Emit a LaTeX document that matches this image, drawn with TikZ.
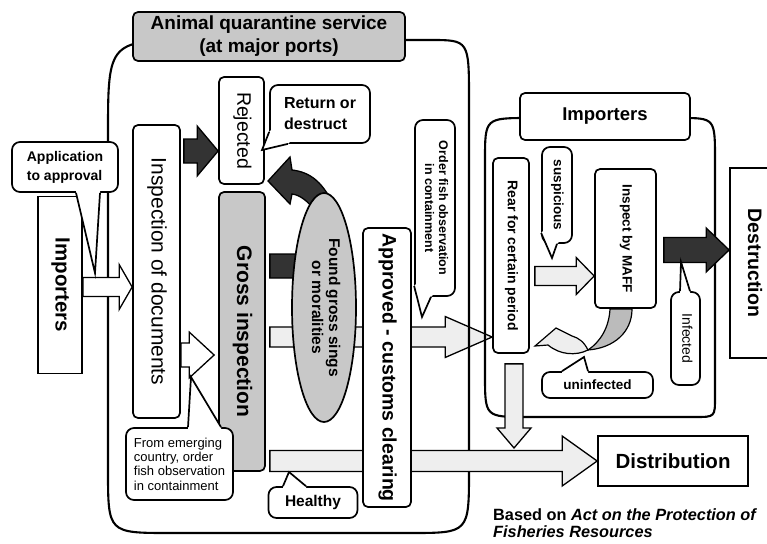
\documentclass[tikz,border=0pt]{standalone}
\usepackage{graphicx}
\usepackage{fontspec}
\setmainfont{Liberation Sans}
\usetikzlibrary{shapes.geometric,calc}
\definecolor{boxgray}{HTML}{C8C8C8}
\definecolor{darkfill}{HTML}{333333}
\definecolor{lightfill}{HTML}{EEEEEE}
\definecolor{midgray}{HTML}{BBBBBB}
\pgfdeclarelayer{under}
\pgfdeclarelayer{frames}
\pgfdeclarelayer{flow}
\pgfsetlayers{under,frames,flow,main}
\newcommand\setfs[2]{\fontsize{#1}{#2}\selectfont}
% text turned to read from top to bottom
\newcommand\vlab[1]{\rotatebox{-90}{\begin{tabular}{@{}c@{}}#1\end{tabular}}}
% right-pointing block arrow: style, tail, tip, shaft half-width, head half-width, head length
\newcommand\rarrow[6]{\path[#1] let \p1=(#2), \p2=(#3) in
  (\x1,\y2+#4) -- (\x2-#6,\y2+#4) -- (\x2-#6,\y2+#5) -- (\x2,\y2)
  -- (\x2-#6,\y2-#5) -- (\x2-#6,\y2-#4) -- (\x1,\y2-#4) -- cycle;}
% downward block arrow: style, tail, tip, shaft half-width, head half-width, head length
\newcommand\darrow[6]{\path[#1] let \p1=(#2), \p2=(#3) in
  (\x2+#4,\y1) -- (\x2+#4,\y2+#6) -- (\x2+#5,\y2+#6) -- (\x2,\y2)
  -- (\x2-#5,\y2+#6) -- (\x2-#4,\y2+#6) -- (\x2-#4,\y1) -- cycle;}
% speech-bubble tail: base point, base point, tip, shift into the bubble
\newcommand\calltail[4]{\fill[white] ($(#1)+(#4)$) -- (#1) -- (#3) -- (#2) -- ($(#2)+(#4)$) -- cycle;
  \draw[ln] (#1) -- (#3) -- (#2);}
\begin{document}
\begin{tikzpicture}[x=1pt,y=-1pt,
  ln/.style={draw=black,line width=1.7pt},
  box/.style={ln,fill=white,rounded corners=5pt,inner sep=0pt},
  sqbox/.style={ln,fill=white,inner sep=0pt},
  graybox/.style={box,fill=boxgray},
  callout/.style={ln,fill=white,rounded corners=8pt,inner sep=0pt},
  framepath/.style={draw=black,line width=2.1pt},
  darkarrow/.style={draw=black,line width=1.3pt,fill=darkfill},
  lightarrow/.style={draw=black,line width=1.3pt,fill=lightfill},
  whitearrow/.style={draw=black,line width=1.3pt,fill=white}]
\useasboundingbox (0,0) rectangle (767,543);

% boxes
\node[graybox, minimum width=272, minimum height=49, align=center, font=\setfs{19}{23}\bfseries] (aqs) at (269,36.5) {Animal quarantine service\\(at major ports)};
\node[sqbox, minimum width=44, minimum height=177, font=\setfs{20.5}{22}\bfseries] (impL) at (60,285) {\vlab{Importers}};
\node[box, minimum width=47, minimum height=293, font=\setfs{21}{24}] (docs) at (156.5,271.5) {\vlab{Inspection of documents}};
\node[box, minimum width=45, minimum height=107, font=\setfs{19.5}{21}] (rej) at (241.5,130.5) {\vlab{Rejected}};
\node[graybox, minimum width=46, minimum height=279, font=\setfs{21}{24}\bfseries] (gross) at (242,331.5) {\vlab{Gross inspection}};
\node[ellipse, ln, fill=boxgray, inner sep=0pt, minimum width=64, minimum height=229, font=\setfs{15.5}{17}\bfseries] (found) at (324,307.5) {\vlab{Found gross sings\\or moralities}};
\node[box, minimum width=48, minimum height=279, font=\setfs{19.5}{22}\bfseries] (appr) at (387,367.5) {\vlab{Approved - customs clearing}};
\node[box, minimum width=170, minimum height=47, font=\setfs{18.5}{22}\bfseries] (imph) at (605,116.5) {Importers};
\node[box, minimum width=36, minimum height=195, font=\setfs{14}{16}\bfseries] (rear) at (511,255.5) {\vlab{Rear for certain period}};
\node[box, minimum width=61, minimum height=139, font=\setfs{13.5}{15}\bfseries] (maff) at (625.5,238.5) {\vlab{Inspect by MAFF}};
\node[sqbox, minimum width=45, minimum height=190, font=\setfs{19.5}{22}\bfseries] (dest) at (752.5,263) {\vlab{Destruction}};
\node[sqbox, minimum width=150, minimum height=50, font=\setfs{20.5}{24}\bfseries] (dist) at (673,461) {Distribution};

% speech bubbles
\node[callout, minimum width=106, minimum height=50, align=left, font=\setfs{14}{19}\bfseries] (app) at (65,167) {Application\\to approval};
\node[callout, minimum width=100, minimum height=58, align=left, font=\setfs{16}{21}\bfseries] (ret) at (320,114) {Return or\\destruct};
\node[callout, minimum width=40, minimum height=176, font=\setfs{12.5}{14}\bfseries] (ord) at (435,208) {\vlab{Order fish observation\\in containment}};
\node[callout, minimum width=107, minimum height=72, align=left, font=\setfs{13}{14.3}] (frm) at (179.5,464) {From emerging\\country, order\\fish observation\\in containment};
\node[callout, minimum width=89, minimum height=31, font=\setfs{15.5}{18}\bfseries] (hlth) at (313,502.5) {Healthy};
\node[callout, minimum width=30, minimum height=96, font=\setfs{13.5}{16}\bfseries] (susp) at (557,195) {\vlab{suspicious}};
\node[callout, minimum width=29, minimum height=93, font=\setfs{14}{16}] (inf) at (685.5,338.5) {\vlab{Infected}};
\node[callout, minimum width=111, minimum height=26, font=\setfs{13.5}{16}\bfseries] (uninf) at (597.5,385) {uninfected};

\node[anchor=north west, align=left, inner sep=0pt, font=\setfs{16.3}{17}\bfseries] (src) at (493,508) {Based on \textit{Act on the Protection of}\\\textit{Fisheries Resources}};

% free ends
\coordinate (appTip) at (95,273);
\coordinate (retTip) at (262,150);
\coordinate (ordTip) at (422,317);
\coordinate (frmTip) at (191,377);
\coordinate (hlthTip) at (289,472);
\coordinate (suspTip) at (552,258);
\coordinate (infTip) at (681,262);
\coordinate (uninfTip) at (584,357);
\coordinate (grossIn) at ($(gross.west |- 0,355)+(-4,0)$);
\coordinate (cTip) at (514,448);

% bubble tails
\calltail{app.south -| 76,0}{app.south -| 100,0}{appTip}{0,-3}
\calltail{ret.west |- 0,132}{ret.south -| 288,0}{retTip}{2,-2}
\calltail{ord.west |- 0,286}{ord.south -| 431,0}{ordTip}{2,-2}
\calltail{frm.north -| 188,0}{frm.north -| 221,0}{frmTip}{0,3}
\calltail{hlth.north -| 283,0}{hlth.north -| 306,0}{hlthTip}{0,3}
\calltail{susp.west |- 0,233}{susp.south -| 557,0}{suspTip}{2,-2}
\calltail{inf.north -| 680,0}{inf.north -| 690,0}{infTip}{0,3}
\calltail{uninf.north -| 562,0}{uninf.north -| 588,0}{uninfTip}{0,3}

% flow passing under the service frame
\begin{pgfonlayer}{under}
\rarrow{lightarrow}{$(gross.east)+(4,0)$}{rear.west |- 0,337}{10pt}{20.5pt}{47pt}
\end{pgfonlayer}

% service and importer frames
\begin{pgfonlayer}{frames}
\draw[framepath] (200,40) -- (430,40) .. controls (469,40) .. (469,100) -- (469,470)
  .. controls (469,533) .. (410,533) -- (170,533) .. controls (108,533) .. (108,470)
  -- (108,135) .. controls (108,40) .. (200,40) -- cycle;
\draw[framepath] (530,118) -- (680,118) .. controls (715,118) .. (715,160) -- (715,397)
  .. controls (715,417) .. (695,417) -- (527,417) .. controls (485,417) .. (485,375)
  -- (485,160) .. controls (485,118) .. (530,118) -- cycle;
\end{pgfonlayer}

% flow arrows
\begin{pgfonlayer}{flow}
\rarrow{whitearrow}{impL.east}{docs.west |- 0,287}{9.5pt}{22.5pt}{13pt}
\rarrow{darkarrow}{$(docs.east)+(3,0)$}{rej.west |- 0,151}{12pt}{25pt}{21pt}
\rarrow{whitearrow}{docs.east}{grossIn}{12pt}{23pt}{25pt}
\rarrow{darkarrow}{$(gross.east)+(4,0)$}{found.center |- 0,266}{12pt}{24pt}{20pt}
\rarrow{lightarrow}{$(gross.east)+(4,0)$}{dist.west}{10.5pt}{25pt}{35pt}
\darrow{lightarrow}{$(rear.south)+(3,10)$}{cTip}{9pt}{17pt}{20pt}
\rarrow{lightarrow}{$(rear.east)+(5,0)$}{maff.west |- 0,276}{9.5pt}{18.5pt}{18pt}
\rarrow{darkarrow}{$(maff.east)+(7,0)$}{dest.west |- 0,250}{12.5pt}{22pt}{23pt}
% found signs lead back to rejection
\draw[darkarrow] (268,181) -- (290,157) -- (292,170) .. controls (310,172) and (322,182) .. (332,202)
  -- (316,212) .. controls (308,201) and (300,195) .. (292,194) -- (290,204) -- cycle;
% uninfected stock returns to rearing
\draw[draw=black, line width=1.2pt, fill=midgray] (610,309) -- (632,309) .. controls (632,332) and (614,348) .. (588,350)
  .. controls (600,342) and (609,328) .. (610,309) -- cycle;
\draw[draw=black, line width=1.2pt, fill=lightfill] (588,350) .. controls (584,342) and (579,338) .. (572,336)
  -- (556,328) -- (535,346) -- (548,345) .. controls (560,355) and (576,356) .. (588,350) -- cycle;
\end{pgfonlayer}
\end{tikzpicture}
\end{document}
